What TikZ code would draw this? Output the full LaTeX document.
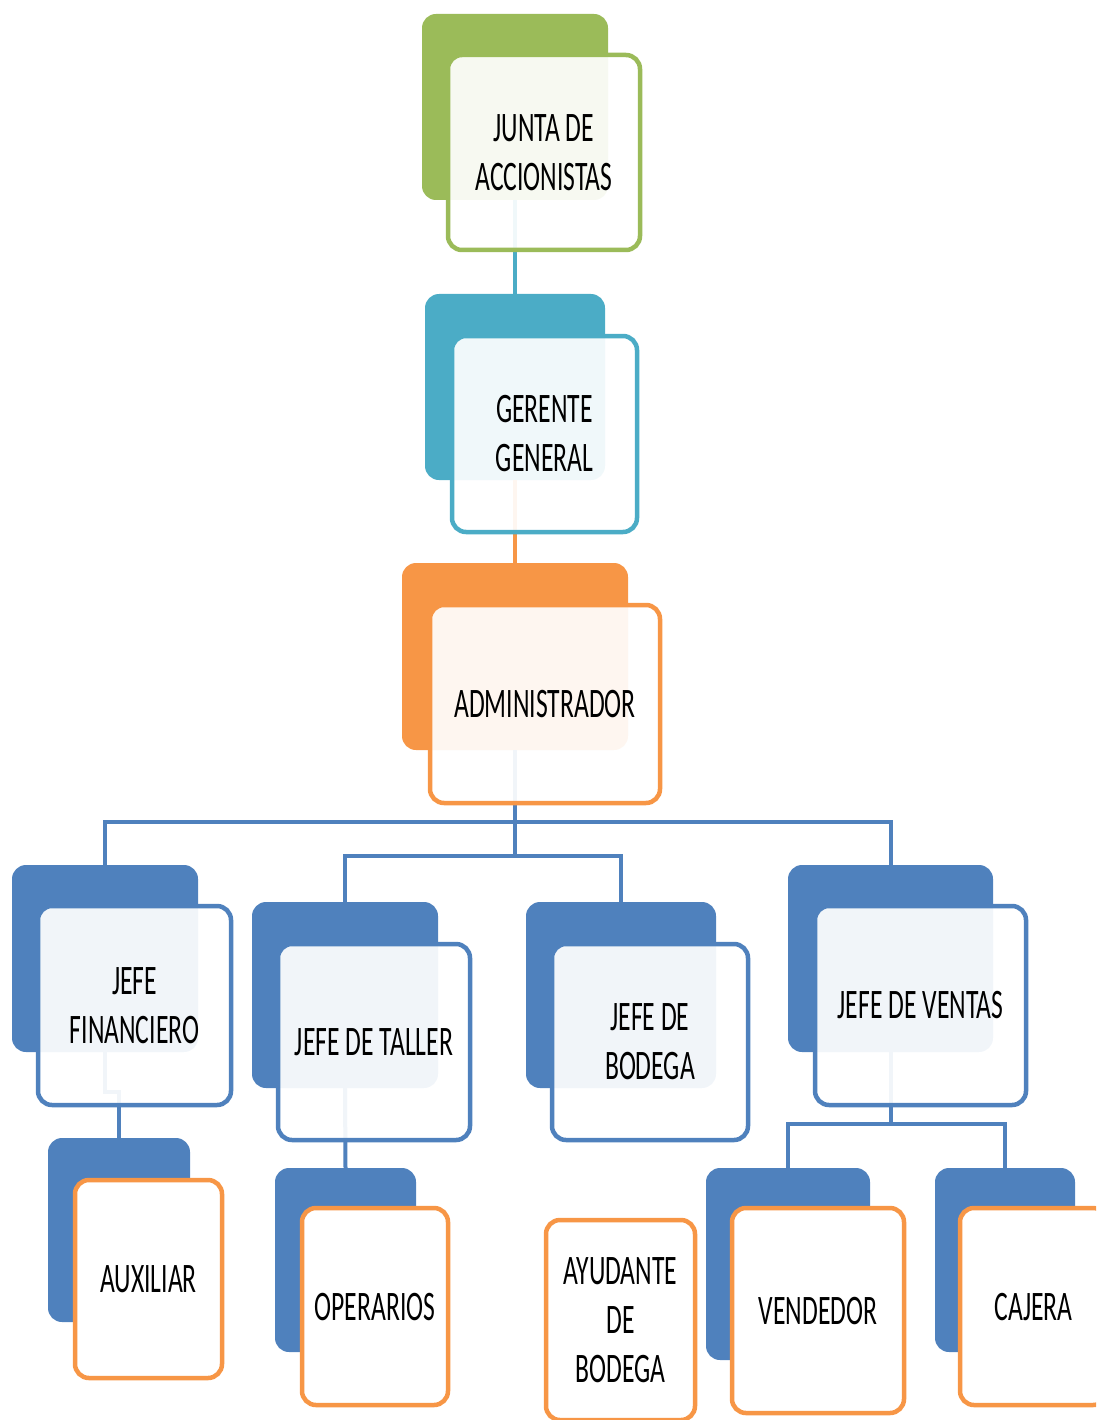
\documentclass[tikz,border=0pt]{standalone}
\usepackage{fontspec}
\setmainfont[FakeStretch=0.61]{Carlito}
\definecolor{cgreen}{HTML}{9BBB59}
\definecolor{cteal}{HTML}{4BACC6}
\definecolor{corange}{HTML}{F79646}
\definecolor{cblue}{HTML}{4F81BD}
\tikzset{
  backbox/.style={rectangle, rounded corners=14pt, fill=#1, draw=none, inner sep=0pt},
  frontbox/.style={rectangle, rounded corners=14pt, draw=#1, line width=4.5pt, fill=white, fill opacity=0.92, text opacity=1, inner sep=0pt, align=center, font=\fontsize{42}{49}\selectfont, text=black},
  solidbox/.style={rectangle, rounded corners=14pt, draw=corange, line width=4.5pt, fill=white, inner sep=0pt, align=center, font=\fontsize{42}{49}\selectfont, text=black},
  conn/.style={line width=4pt, draw=#1},
}
\begin{document}
\begin{tikzpicture}[x=1pt, y=-1pt]
\useasboundingbox (0,0) rectangle (1096,1420);
\clip (0,0) rectangle (1096,1420);
% back boxes
\node[backbox=cgreen, minimum width=186pt, minimum height=186pt] (juntaB) at (515,107) {};
\node[backbox=cteal, minimum width=180pt, minimum height=186pt] (gerB) at (515,387) {};
\node[backbox=corange, minimum width=226pt, minimum height=187pt] (admB) at (515,656.5) {};
\node[backbox=cblue, minimum width=186pt, minimum height=187pt] (finB) at (105,958.5) {};
\node[backbox=cblue, minimum width=186pt, minimum height=186pt] (talB) at (345,995) {};
\node[backbox=cblue, minimum width=190pt, minimum height=186pt] (bodB) at (621,995) {};
\node[backbox=cblue, minimum width=205pt, minimum height=187pt] (venB) at (890.5,958.5) {};
\node[backbox=cblue, minimum width=142pt, minimum height=184pt] (auxB) at (119,1230) {};
\node[backbox=cblue, minimum width=141pt, minimum height=184pt] (opB) at (345.5,1260) {};
\node[backbox=cblue, minimum width=164pt, minimum height=192pt] (vendB) at (788,1264) {};
\node[backbox=cblue, minimum width=140pt, minimum height=184pt] (cajB) at (1005,1260) {};
% connectors
\coordinate (busA) at (515,822);
\coordinate (busB) at (515,856);
\coordinate (jog) at (105,1092);
\coordinate (busC) at (890.5,1124);
\draw[conn=cteal] (juntaB.south) -- (gerB.north);
\draw[conn=corange] (gerB.south) -- (admB.north);
\draw[conn=cblue] (admB.south) -- (busA) -- (busB);
\draw[conn=cblue] (finB.north) |- (busA) -| (venB.north);
\draw[conn=cblue] (talB.north) |- (busB) -| (bodB.north);
\draw[conn=cblue] (finB.south) -- (jog) -| (auxB.north);
\draw[conn=cblue] (talB.south) -- (opB.north);
\draw[conn=cblue] (venB.south) -- (busC);
\draw[conn=cblue] (vendB.north) |- (busC) -| (cajB.north);
% front boxes
\node[frontbox=cgreen, minimum width=192pt, minimum height=195pt] (junta) at (544,152.5) {JUNTA DE\\ACCIONISTAS};
\node[frontbox=cteal, minimum width=185pt, minimum height=196pt] (ger) at (544.5,434) {GERENTE\\GENERAL};
\node[frontbox=corange, minimum width=230pt, minimum height=198pt] (adm) at (545,704) {ADMINISTRADOR};
\node[frontbox=cblue, minimum width=193pt, minimum height=199pt] (fin) at (134.5,1005.5) {JEFE\\FINANCIERO};
\node[frontbox=cblue, minimum width=192pt, minimum height=196pt] (tal) at (374,1042) {JEFE DE TALLER};
\node[frontbox=cblue, minimum width=196pt, minimum height=196pt] (bod) at (650,1042) {JEFE DE\\BODEGA};
\node[frontbox=cblue, minimum width=211pt, minimum height=199pt] (ven) at (920.5,1005.5) {JEFE DE VENTAS};
\node[solidbox, minimum width=147pt, minimum height=198pt] (aux) at (148.5,1279) {AUXILIAR};
\node[solidbox, minimum width=146pt, minimum height=197pt] (op) at (375,1306.5) {OPERARIOS};
\node[solidbox, minimum width=149pt, minimum height=200pt] (ayu) at (620.5,1320) {AYUDANTE\\DE\\BODEGA};
\node[solidbox, minimum width=172pt, minimum height=205pt] (vend) at (818,1310.5) {VENDEDOR};
\node[solidbox, minimum width=147pt, minimum height=197pt] (caj) at (1033.5,1306.5) {CAJERA};
\end{tikzpicture}
\end{document}
